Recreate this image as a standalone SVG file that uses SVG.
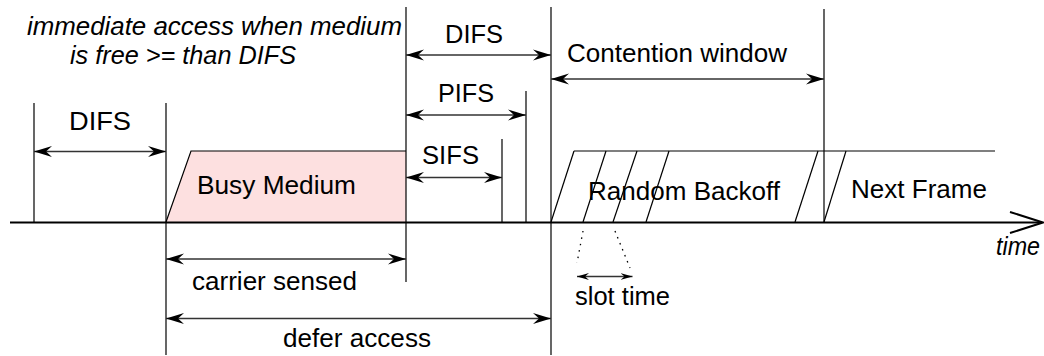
<svg xmlns="http://www.w3.org/2000/svg" width="1044" height="356" viewBox="0 0 1044 356">
<style>
text{font-family:"Liberation Sans",Arial,sans-serif;font-size:25px;fill:#000}
.it{font-style:italic}
.ln{stroke:#000;stroke-width:1.2;fill:none}
.arr{stroke:#333;stroke-width:1.4;fill:none;marker-start:url(#ah);marker-end:url(#ah)}
.sarr{stroke:#333;stroke-width:1.4;fill:none;marker-start:url(#sah);marker-end:url(#sah)}
.dot{stroke:#000;stroke-width:1.3;stroke-dasharray:1.5 5;fill:none}
</style>
<defs>
<marker id="ah" viewBox="0 -6 18 12" markerWidth="18" markerHeight="12" refX="18" refY="0" orient="auto-start-reverse" markerUnits="userSpaceOnUse">
<path d="M0,-5.5 L18,0 L0,5.5 L6,0 Z" fill="#000"/>
</marker>
<marker id="sah" viewBox="0 -4 12 8" markerWidth="12" markerHeight="8" refX="12" refY="0" orient="auto-start-reverse" markerUnits="userSpaceOnUse">
<path d="M0,-3.5 L12,0 L0,3.5 L4,0 Z" fill="#000"/>
</marker>
</defs>

<g id="note">
<text class="it" x="27" y="35" textLength="375" lengthAdjust="spacingAndGlyphs">immediate access when medium</text>
<text class="it" x="70" y="64" textLength="226" lengthAdjust="spacingAndGlyphs">is free &gt;= than DIFS</text>
</g>

<g id="busy-medium">
<polygon points="166,222 191,151 406,151 406,222" fill="#fde0e0" stroke="none"/>
<polyline points="166,222 191,151 406,151" class="ln" stroke="#444"/>
<text x="197" y="193.5" textLength="159" lengthAdjust="spacingAndGlyphs">Busy Medium</text>
</g>

<g id="random-backoff">
<line x1="574" y1="151" x2="995" y2="151" class="ln"/>
<line x1="551" y1="222" x2="574" y2="151" class="ln"/>
<line x1="583" y1="222" x2="606" y2="151" class="ln"/>
<line x1="613" y1="222" x2="637" y2="151" class="ln"/>
<line x1="646" y1="222" x2="669" y2="151" class="ln"/>
<line x1="795" y1="222" x2="818" y2="151" class="ln"/>
<text x="588" y="199.5" textLength="192" lengthAdjust="spacingAndGlyphs">Random Backoff</text>
</g>

<g id="next-frame">
<line x1="824" y1="222" x2="846" y2="151" class="ln"/>
<text x="851" y="198" textLength="136" lengthAdjust="spacingAndGlyphs">Next Frame</text>
</g>

<g id="time-axis">
<line x1="10" y1="222.5" x2="1042" y2="222.5" stroke="#000" stroke-width="2.2"/>
<polyline points="1010,212 1043,222.5 1010,233" fill="none" stroke="#000" stroke-width="2"/>
<text class="it" x="996" y="255" textLength="44" lengthAdjust="spacingAndGlyphs">time</text>
</g>

<g id="markers">
<line x1="34" y1="103" x2="34" y2="222" class="ln"/>
<line x1="166" y1="103" x2="166" y2="355" class="ln"/>
<line x1="406" y1="7" x2="406" y2="282" class="ln"/>
<line x1="502" y1="139" x2="502" y2="222" class="ln"/>
<line x1="526" y1="91" x2="526" y2="222" class="ln"/>
<line x1="551" y1="7" x2="551" y2="355" class="ln"/>
<line x1="824" y1="9" x2="824" y2="222" class="ln"/>
</g>

<g id="connectors">
<line x1="34" y1="151.5" x2="166" y2="151.5" class="arr"/>
<line x1="406" y1="55" x2="551" y2="55" class="arr"/>
<line x1="551" y1="79" x2="824" y2="79" class="arr"/>
<line x1="406" y1="115" x2="526" y2="115" class="arr"/>
<line x1="406" y1="177.5" x2="502" y2="177.5" class="arr"/>
<line x1="166" y1="259" x2="406" y2="259" class="arr"/>
<line x1="166" y1="318.5" x2="551" y2="318.5" class="arr"/>
<line x1="577" y1="276.5" x2="632.5" y2="276.5" class="sarr"/>
<line x1="583" y1="231" x2="577" y2="263" class="dot"/>
<line x1="615" y1="231" x2="630" y2="268" class="dot"/>
</g>

<g id="labels">
<text x="69" y="130" textLength="62" lengthAdjust="spacingAndGlyphs">DIFS</text>
<text x="445" y="43" textLength="58" lengthAdjust="spacingAndGlyphs">DIFS</text>
<text x="567" y="62" textLength="220" lengthAdjust="spacingAndGlyphs">Contention window</text>
<text x="438" y="102" textLength="56" lengthAdjust="spacingAndGlyphs">PIFS</text>
<text x="422" y="164" textLength="57" lengthAdjust="spacingAndGlyphs">SIFS</text>
<text x="192" y="290" textLength="165" lengthAdjust="spacingAndGlyphs">carrier sensed</text>
<text x="283" y="347" textLength="148" lengthAdjust="spacingAndGlyphs">defer access</text>
<text x="575" y="305" textLength="95" lengthAdjust="spacingAndGlyphs">slot time</text>
</g>
</svg>
